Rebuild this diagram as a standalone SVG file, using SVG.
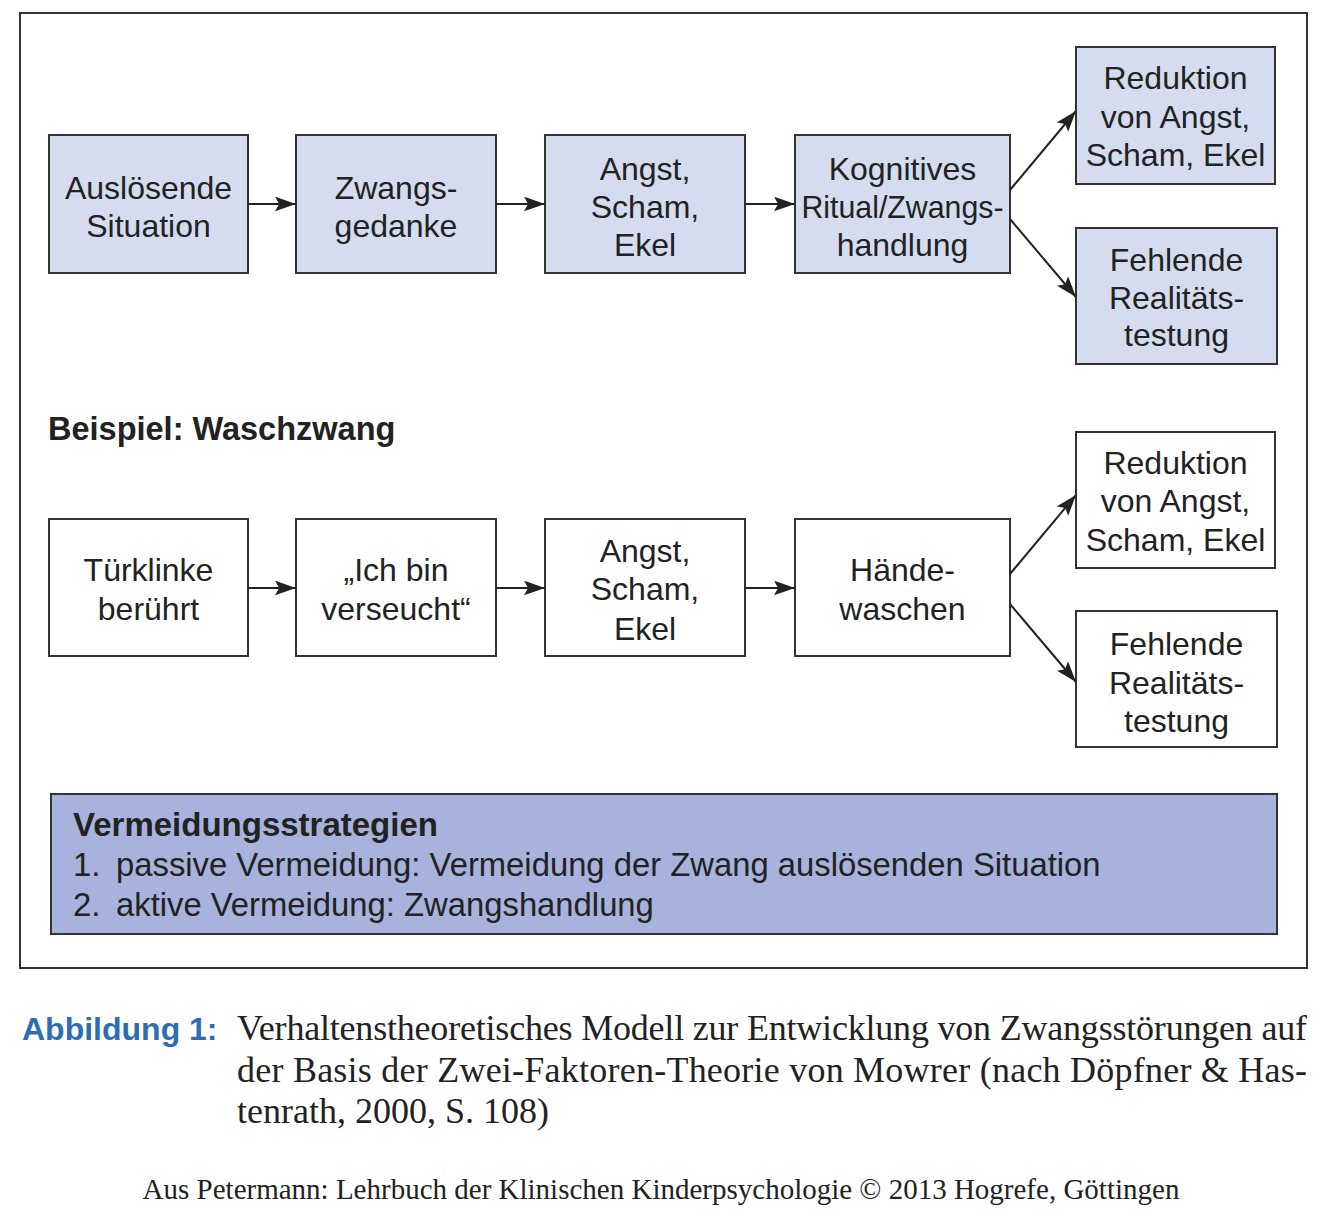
<svg xmlns="http://www.w3.org/2000/svg" width="1324" height="1214" viewBox="0 0 1324 1214">
<style>
.t{font-family:"Liberation Sans",Arial,sans-serif;font-size:32px;fill:#222;text-anchor:middle}
.b{font-family:"Liberation Sans",Arial,sans-serif;font-size:32.5px;fill:#222;font-weight:bold}
.l{font-family:"Liberation Sans",Arial,sans-serif;font-size:32.8px;fill:#222}
.box{stroke:#333;stroke-width:2}
.blue{fill:#d5dcef}
.white{fill:#fff}
.con line{stroke:#222;stroke-width:2}
.s{font-family:"Liberation Serif","Times New Roman",serif;font-size:36px;fill:#222}
</style>
<defs>
<marker id="ah" viewBox="0 0 20 14" refX="20" refY="7" markerWidth="21" markerHeight="15" markerUnits="userSpaceOnUse" orient="auto">
<path d="M0,0 L20,7 L0,14 L4,7 z" fill="#222"/>
</marker>
</defs>
<rect x="0" y="0" width="1324" height="1214" fill="#fff"/>
<rect id="frame" x="20" y="13" width="1287" height="955" fill="none" stroke="#333" stroke-width="2"/>

<g id="n1"><rect class="box blue" x="49" y="135" width="199" height="138"/><text class="t" x="148.5" y="199">Auslösende</text><text class="t" x="148.5" y="237">Situation</text></g>
<g id="n2"><rect class="box blue" x="296" y="135" width="200" height="138"/><text class="t" x="396" y="199">Zwangs-</text><text class="t" x="396" y="237">gedanke</text></g>
<g id="n3"><rect class="box blue" x="545" y="135" width="200" height="138"/><text class="t" x="645" y="180">Angst,</text><text class="t" x="645" y="218">Scham,</text><text class="t" x="645" y="256">Ekel</text></g>
<g id="n4"><rect class="box blue" x="795" y="135" width="215" height="138"/><text class="t" x="902.5" y="180">Kognitives</text><text class="t" x="902.5" y="218" textLength="202" lengthAdjust="spacingAndGlyphs">Ritual/Zwangs-</text><text class="t" x="902.5" y="256">handlung</text></g>
<g id="n5"><rect class="box blue" x="1076" y="47" width="199" height="137"/><text class="t" x="1175.5" y="89">Reduktion</text><text class="t" x="1175.5" y="128">von Angst,</text><text class="t" x="1175.5" y="166">Scham, Ekel</text></g>
<g id="n6"><rect class="box blue" x="1076" y="228" width="201" height="136"/><text class="t" x="1176.5" y="271">Fehlende</text><text class="t" x="1176.5" y="309">Realitäts-</text><text class="t" x="1176.5" y="346">testung</text></g>

<text id="beispiel" class="b" x="48" y="440">Beispiel: Waschzwang</text>

<g id="m1"><rect class="box white" x="49" y="519" width="199" height="137"/><text class="t" x="148.5" y="581">Türklinke</text><text class="t" x="148.5" y="620">berührt</text></g>
<g id="m2"><rect class="box white" x="296" y="519" width="200" height="137"/><text class="t" x="396" y="581">„Ich bin</text><text class="t" x="396" y="620">verseucht“</text></g>
<g id="m3"><rect class="box white" x="545" y="519" width="200" height="137"/><text class="t" x="645" y="562">Angst,</text><text class="t" x="645" y="600">Scham,</text><text class="t" x="645" y="640">Ekel</text></g>
<g id="m4"><rect class="box white" x="795" y="519" width="215" height="137"/><text class="t" x="902.5" y="581">Hände-</text><text class="t" x="902.5" y="620">waschen</text></g>
<g id="m5"><rect class="box white" x="1076" y="432" width="199" height="136"/><text class="t" x="1175.5" y="474">Reduktion</text><text class="t" x="1175.5" y="512">von Angst,</text><text class="t" x="1175.5" y="551">Scham, Ekel</text></g>
<g id="m6"><rect class="box white" x="1076" y="611" width="201" height="136"/><text class="t" x="1176.5" y="655">Fehlende</text><text class="t" x="1176.5" y="694">Realitäts-</text><text class="t" x="1176.5" y="732">testung</text></g>

<g id="connectors" class="con">
<line x1="248" y1="204" x2="296" y2="204" marker-end="url(#ah)"/>
<line x1="496" y1="204" x2="545" y2="204" marker-end="url(#ah)"/>
<line x1="745" y1="204" x2="795" y2="204" marker-end="url(#ah)"/>
<line x1="1010" y1="190" x2="1076" y2="111" marker-end="url(#ah)"/>
<line x1="1010" y1="219" x2="1076" y2="297" marker-end="url(#ah)"/>
<line x1="248" y1="588" x2="296" y2="588" marker-end="url(#ah)"/>
<line x1="496" y1="588" x2="545" y2="588" marker-end="url(#ah)"/>
<line x1="745" y1="588" x2="795" y2="588" marker-end="url(#ah)"/>
<line x1="1010" y1="574" x2="1076" y2="495" marker-end="url(#ah)"/>
<line x1="1010" y1="604" x2="1076" y2="682" marker-end="url(#ah)"/>
</g>

<g id="vermeidung">
<rect class="box" x="51" y="794" width="1226" height="140" fill="#a7b3dc"/>
<text class="b" x="73" y="836" style="font-size:33px">Vermeidungsstrategien</text>
<text class="l" x="73" y="876">1.</text><text class="l" x="116" y="876">passive Vermeidung: Vermeidung der Zwang auslösenden Situation</text>
<text class="l" x="73" y="916">2.</text><text class="l" x="116" y="916">aktive Vermeidung: Zwangshandlung</text>
</g>

<g id="caption">
<text x="22" y="1040" font-family="Liberation Sans, Arial, sans-serif" font-size="32" font-weight="bold" fill="#2e6db4">Abbildung 1:</text>
<text class="s" x="237" y="1040" textLength="1070" lengthAdjust="spacing">Verhaltenstheoretisches Modell zur Entwicklung von Zwangsstörungen auf</text>
<text class="s" x="237" y="1082" textLength="1070" lengthAdjust="spacing">der Basis der Zwei-Faktoren-Theorie von Mowrer (nach Döpfner &amp; Has-</text>
<text class="s" x="237" y="1123">tenrath, 2000, S. 108)</text>
</g>
<text id="footer" x="661" y="1199" text-anchor="middle" font-family="Liberation Serif, Times New Roman, serif" font-size="29" fill="#222">Aus Petermann: Lehrbuch der Klinischen Kinderpsychologie © 2013 Hogrefe, Göttingen</text>
</svg>
